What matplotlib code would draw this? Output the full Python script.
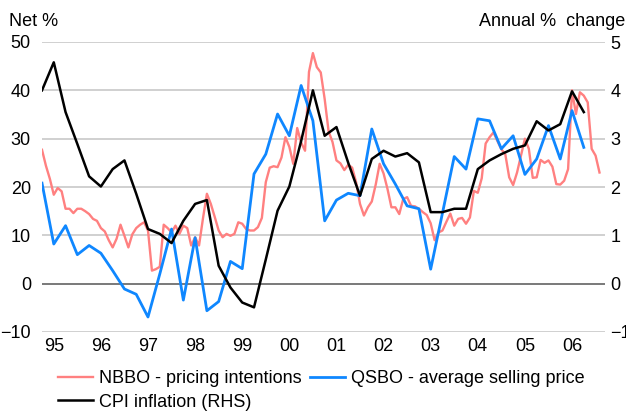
import matplotlib
matplotlib.use("Agg")
import matplotlib.pyplot as plt
import numpy as np

plt.rcParams['font.family'] = ['Liberation Sans', 'DejaVu Sans']

# NBBO pricing intentions, net %, monthly from late 1994
nbbo = [27.7, 24.4, 21.7, 18.4, 19.8, 19.1, 15.5, 15.5, 14.6, 15.5,
        15.5, 15.0, 14.4, 13.4, 13.0, 11.5, 10.8, 9.0, 7.5, 9.3,
        12.2, 9.9, 7.5, 10.2, 11.5, 12.2, 12.7, 11.0, 2.7, 3.0,
        3.5, 12.2, 11.5, 10.6, 12.0, 10.3, 12.0, 11.5, 7.9, 9.6,
        7.9, 13.5, 18.6, 16.5, 13.8, 11.0, 9.6, 10.3, 9.9, 10.3,
        12.7, 12.4, 11.3, 11.0, 11.0, 11.7, 13.6, 21.0, 24.0, 24.3,
        24.1, 26.1, 30.3, 28.3, 24.8, 32.2, 29.2, 27.5, 43.8, 47.7,
        44.8, 43.7, 38.2, 31.5, 29.3, 25.5, 24.9, 23.5, 24.6, 24.0,
        21.0, 16.5, 14.1, 15.8, 17.0, 20.5, 24.8, 22.8, 19.6, 15.8,
        15.8, 14.4, 17.5, 17.9, 16.1, 16.0, 15.5, 14.8, 14.2, 12.5,
        9.0, 10.6, 11.0, 12.8, 14.5, 12.0, 13.4, 13.6, 12.4, 13.7,
        19.2, 18.8, 21.8, 29.0, 30.3, 31.3, 29.5, 27.8, 26.8, 22.0,
        20.4, 23.0, 26.5, 30.0, 27.9, 21.9, 22.0, 25.6, 25.0, 25.5,
        24.2, 20.6, 20.5, 21.3, 23.7, 40.0, 35.1, 39.6, 38.9, 37.5,
        27.9, 26.5, 23.0]

# QSBO average selling price, net %, quarterly
qsbo = [20.8, 8.2, 12.0, 6.0, 7.9, 6.3, 2.7, -1.1, -2.2, -6.9,
        2.0, 11.3, -3.4, 9.5, -5.6, -3.7, 4.6, 3.1, 22.7, 26.8,
        35.1, 30.6, 41.0, 33.7, 13.0, 17.3, 18.7, 18.2, 32.0, 24.8,
        20.6, 16.1, 15.5, 3.0, 14.6, 26.3, 23.7, 34.1, 33.7, 27.9,
        30.6, 22.6, 25.8, 32.7, 25.8, 35.8, 28.2]

# CPI inflation, annual % change, quarterly (RHS)
cpi = [4.00, 4.58, 3.55, 2.89, 2.22, 2.01, 2.37, 2.55, 1.86, 1.13,
       1.03, 0.84, 1.30, 1.65, 1.73, 0.37, -0.08, -0.39, -0.49, 0.50,
       1.51, 2.01, 2.95, 4.00, 3.06, 3.24, 2.50, 1.82, 2.58, 2.75,
       2.63, 2.70, 2.51, 1.48, 1.48, 1.55, 1.55, 2.37, 2.55, 2.68,
       2.79, 2.86, 3.36, 3.17, 3.30, 3.98, 3.55]

years = list(range(1995, 2007))
year_labels = [str(y)[2:] for y in years]

start = 1994.75
t_month = start + np.arange(len(nbbo)) / 12.0
t_quarter = start + np.arange(len(qsbo)) / 4.0

fig = plt.figure(figsize=(6.26, 4.16), dpi=100)
ax = fig.add_axes([42 / 626, 1 - 332 / 416, 563 / 626, 290 / 416])
ax2 = ax.twinx()

ax.plot(t_month, nbbo, color='#ff8080', lw=1.7, label='NBBO - pricing intentions', zorder=3)
ax.plot(t_quarter, qsbo, color='#0f87ff', lw=2.0, label='QSBO - average selling price', zorder=4)
ax2.plot(t_quarter, cpi, color='black', lw=1.8, label='CPI inflation (RHS)', zorder=5)

ax.set_xlim(start, 2006.7)
ax.set_ylim(-10, 50)
ax2.set_ylim(-1, 5)
ax.set_yticks(range(-10, 51, 10))
ax2.set_yticks(range(-1, 6))
ax.set_xticks(years)
ax.set_xticklabels(year_labels)

for v in range(-10, 51, 10):
    ax.axhline(v, color='#555555' if v == 0 else '#c4c4c4', lw=1.1, zorder=1)

for a in (ax, ax2):
    for s in a.spines.values():
        s.set_visible(False)
ax.tick_params(axis='both', length=0, labelsize=13)
ax.tick_params(axis='y', pad=8)
ax.tick_params(axis='x', pad=4)
ax2.tick_params(axis='y', length=0, labelsize=13, pad=4)

fig.text(9 / 626, 1 - 26 / 416, 'Net %', fontsize=13, ha='left', va='baseline')
fig.text(625 / 626, 1 - 26 / 416, 'Annual %  change', fontsize=13, ha='right', va='baseline')

h1, l1 = ax.get_legend_handles_labels()
h2, l2 = ax2.get_legend_handles_labels()
handles = [h1[0], h2[0], h1[1]]
labels = [l1[0], l2[0], l1[1]]
fig.legend(handles, labels, ncol=2, loc='upper left', bbox_to_anchor=(58 / 626, 1 - 370 / 416),
           frameon=False, fontsize=13, handlelength=1.94, handletextpad=0.33,
           columnspacing=0.44, labelspacing=0.37, borderpad=0, borderaxespad=0)

fig.savefig('out.png', dpi=100)
